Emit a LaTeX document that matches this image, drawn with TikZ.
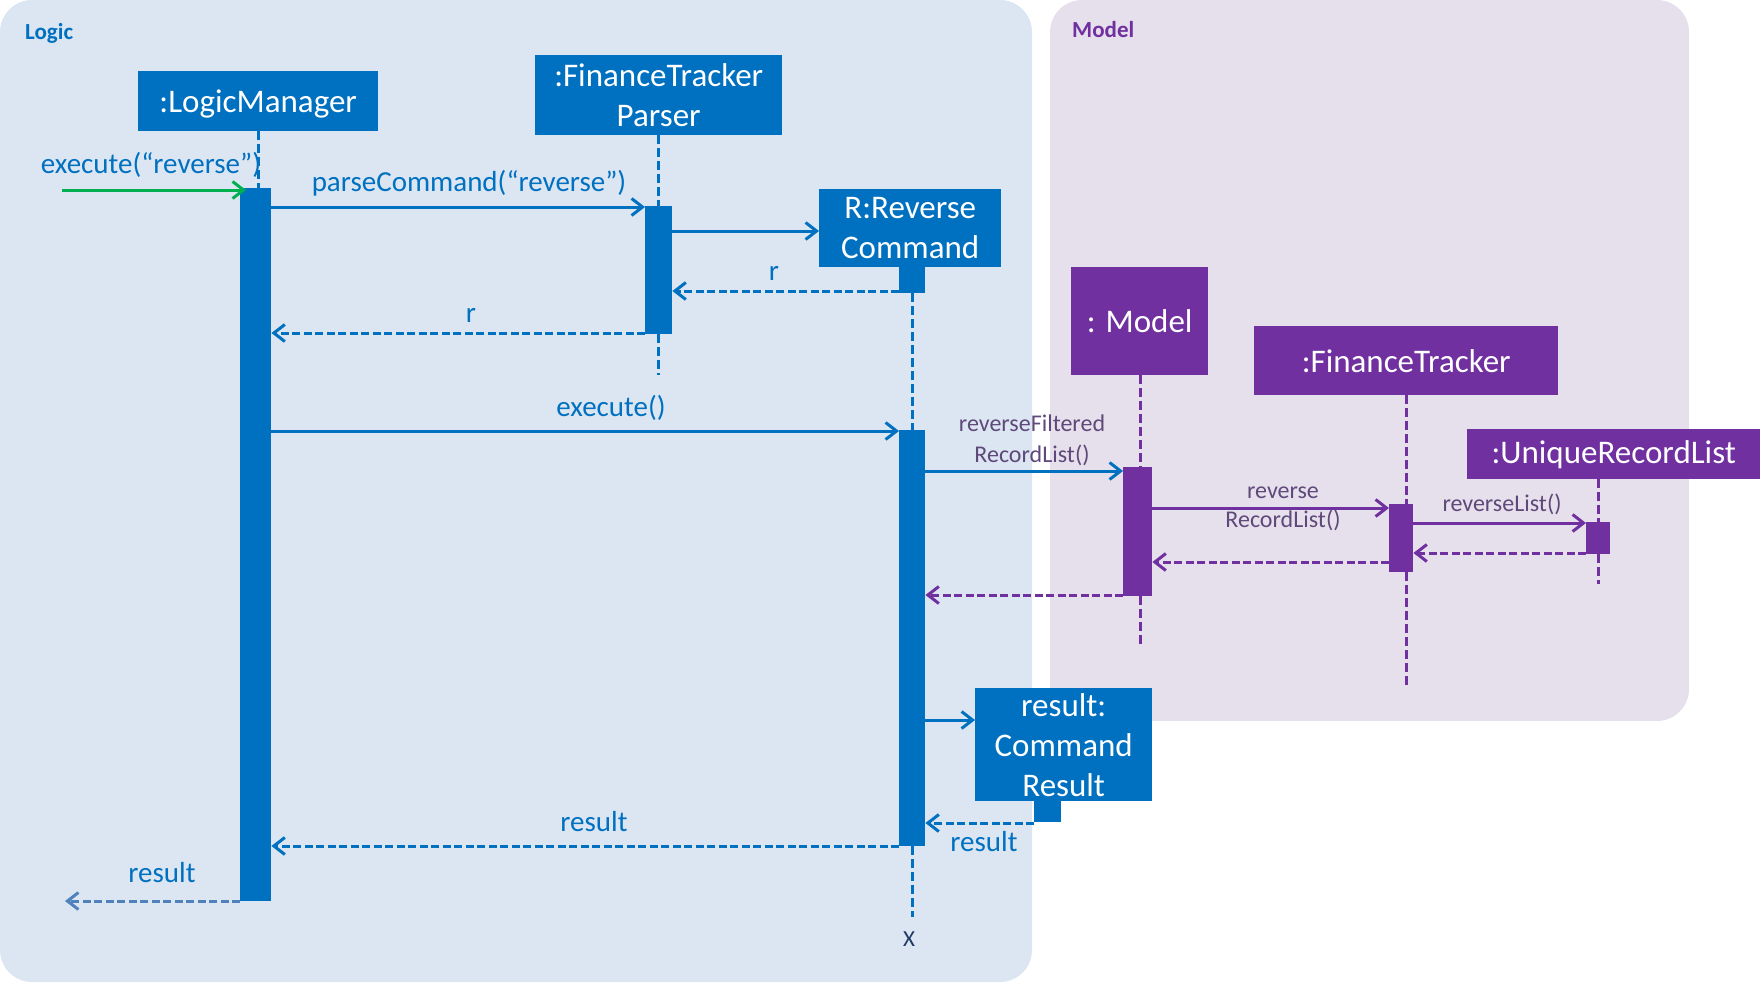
\documentclass[tikz,border=0pt]{standalone}
\usepackage{fontspec}
\setmainfont{Carlito}
\usetikzlibrary{arrows.meta}
\definecolor{logicbg}{HTML}{DCE6F2}
\definecolor{modelbg}{HTML}{E6E0EC}
\definecolor{ublue}{HTML}{0070C0}
\definecolor{upurple}{HTML}{7030A0}
\definecolor{ugreen}{HTML}{00B050}
\definecolor{mtext}{HTML}{5F497A}
\definecolor{lblue}{HTML}{4F81BD}
\definecolor{xnavy}{HTML}{1F3864}
\begin{document}
\begin{tikzpicture}[x=1pt,y=-1pt,
  panel/.style={rounded corners=32pt, draw=none},
  objbox/.style={fill=#1, text=white, inner sep=0pt, anchor=north west, align=center,
    font=\fontsize{33}{40}\selectfont},
  actbar/.style={fill=#1, inner sep=0pt, anchor=north west, draw=none},
  msg/.style={line width=3pt, draw=#1, -{Straight Barb[length=11pt,width=17pt]}},
  ret/.style={msg=#1, dash pattern=on 8pt off 3.5pt},
  life/.style={line width=3pt, draw=#1, dash pattern=on 9pt off 4pt},
  lbl/.style={text=#1, anchor=base, inner sep=0pt, font=\fontsize{29}{35}\selectfont},
  mlbl/.style={text=mtext, anchor=base, inner sep=0pt, font=\fontsize{24}{30}\selectfont},
  ptitle/.style={text=#1, anchor=base west, inner sep=0pt, font=\fontsize{23}{28}\selectfont\bfseries}
]
\useasboundingbox (0,0) rectangle (1760,983);
% panels
\fill[logicbg, panel] (0,0) rectangle (1032,982);
\fill[modelbg, panel] (1050,0) rectangle (1689,721);
\node[ptitle=ublue] (logict) at (25,39) {Logic};
\node[ptitle=upurple] (modelt) at (1072,37) {Model};

% object boxes
\node[objbox=ublue, minimum width=240pt, minimum height=60pt, text depth=0pt] (lm) at (138,71) {:LogicManager};
\node[objbox=ublue, minimum width=247pt, minimum height=80pt] (ftp) at (535,55) {:FinanceTracker\\Parser};
\node[objbox=ublue, minimum width=182pt, minimum height=78pt] (rc) at (819,189) {R:Reverse\\Command};
\node[objbox=upurple, minimum width=137pt, minimum height=108pt] (model) at (1071,267) {: Model};
\node[objbox=upurple, minimum width=304pt, minimum height=69pt] (ft) at (1254,326) {:FinanceTracker};
\node[objbox=upurple, minimum width=293pt, minimum height=50pt] (url) at (1467,429) {:UniqueRecordList};
\node[objbox=ublue, minimum width=177pt, minimum height=113pt] (cr) at (975,688) {result:\\Command\\Result};

% activation bars
\node[actbar=ublue, minimum width=31pt, minimum height=713pt] (lmbar) at (240,188) {};
\node[actbar=ublue, minimum width=27pt, minimum height=128pt] (ftpbar) at (645,206) {};
\node[actbar=ublue, minimum width=26pt, minimum height=27pt] (rcsmall) at (899,266) {};
\node[actbar=ublue, minimum width=26pt, minimum height=416pt] (rcbar) at (899,430) {};
\node[actbar=upurple, minimum width=29pt, minimum height=129pt] (modelbar) at (1123,467) {};
\node[actbar=upurple, minimum width=24pt, minimum height=68pt] (ftbar) at (1389,504) {};
\node[actbar=upurple, minimum width=24pt, minimum height=32pt] (urlbar) at (1586,522) {};
\node[actbar=ublue, minimum width=27pt, minimum height=22pt] (crsmall) at (1034,800) {};

% lifeline ends
\coordinate (ftpend) at (658,375);
\coordinate (rcend) at (912,917);
\coordinate (modelend) at (1140,646);
\coordinate (ftend) at (1406,685);
\coordinate (urlend) at (1598,584);

% lifelines
\draw[life=ublue] (258,131) -- (258,188);
\draw[life=ublue] (ftp.south) -- (ftp.south |- ftpbar.north);
\draw[life=ublue] (ftpend |- ftpbar.south) -- (ftpend);
\draw[life=ublue] (rcend |- rcsmall.south) -- (rcend |- rcbar.north);
\draw[life=ublue] (rcend |- rcbar.south) -- (rcend);
\draw[life=upurple] (modelend |- model.south) -- (modelend |- modelbar.north);
\draw[life=upurple] (modelend |- modelbar.south) -- (modelend);
\draw[life=upurple] (ftend |- ft.south) -- (ftend |- ftbar.north);
\draw[life=upurple] (ftend |- ftbar.south) -- (ftend);
\draw[life=upurple] (urlend |- url.south) -- (urlend |- urlbar.north);
\draw[life=upurple] (urlend |- urlbar.south) -- (urlend);
\node[text=xnavy, anchor=base, inner sep=0pt, font=\fontsize{23}{27}\selectfont] (xmark) at (909,946) {X};

% messages
\coordinate (start) at (62,190);
\draw[msg=ugreen] (start) -- ([xshift=6pt]lmbar.west |- start);
\node[lbl=ublue] (l1) at (151,173) {execute(“reverse”)};

\draw[msg=ublue] (lmbar.east |- 0,207) -- (ftpbar.west |- 0,207);
\node[lbl=ublue] (l2) at (469,191) {parseCommand(“reverse”)};

\draw[msg=ublue] (ftpbar.east |- 0,231) -- (rc.west |- 0,231);

\draw[ret=ublue] (rcsmall.west |- 0,291) -- (ftpbar.east |- 0,291);
\node[lbl=ublue] (l3) at (774,280) {r};

\draw[ret=ublue] (ftpbar.west |- 0,333) -- (lmbar.east |- 0,333);
\node[lbl=ublue] (l4) at (471,322) {r};

\draw[msg=ublue] (lmbar.east |- 0,431) -- (rcbar.west |- 0,431);
\node[lbl=ublue] (l5) at (611,416) {execute()};

\draw[msg=ublue] (rcbar.east |- 0,471) -- (modelbar.west |- 0,471);
\node[mlbl] (l6a) at (1032,431) {reverseFiltered};
\node[mlbl] (l6b) at (1032,462) {RecordList()};

\draw[msg=upurple] (modelbar.east |- 0,508) -- (ftbar.west |- 0,508);
\node[mlbl] (l7a) at (1283,498) {reverse};
\node[mlbl] (l7b) at (1283,527) {RecordList()};

\draw[msg=upurple] (ftbar.east |- 0,523) -- (urlbar.west |- 0,523);
\node[mlbl] (l8) at (1502,511) {reverseList()};

\draw[ret=upurple] (urlbar.west |- 0,553) -- (ftbar.east |- 0,553);
\draw[ret=upurple] (ftbar.west |- 0,562) -- (modelbar.east |- 0,562);
\draw[ret=upurple] (modelbar.west |- 0,595) -- (rcbar.east |- 0,595);

\draw[msg=ublue] (rcbar.east |- 0,720) -- (cr.west |- 0,720);

\draw[ret=ublue] (crsmall.west |- 0,823) -- (rcbar.east |- 0,823);
\node[lbl=ublue] (l9) at (984,851) {result};

\draw[ret=ublue] (rcbar.west |- 0,846) -- (lmbar.east |- 0,846);
\node[lbl=ublue] (l10) at (594,831) {result};

\coordinate (outend) at (65,901);
\draw[ret=lblue] (lmbar.west |- outend) -- (outend);
\node[lbl=ublue] (l11) at (162,882) {result};
\end{tikzpicture}
\end{document}
